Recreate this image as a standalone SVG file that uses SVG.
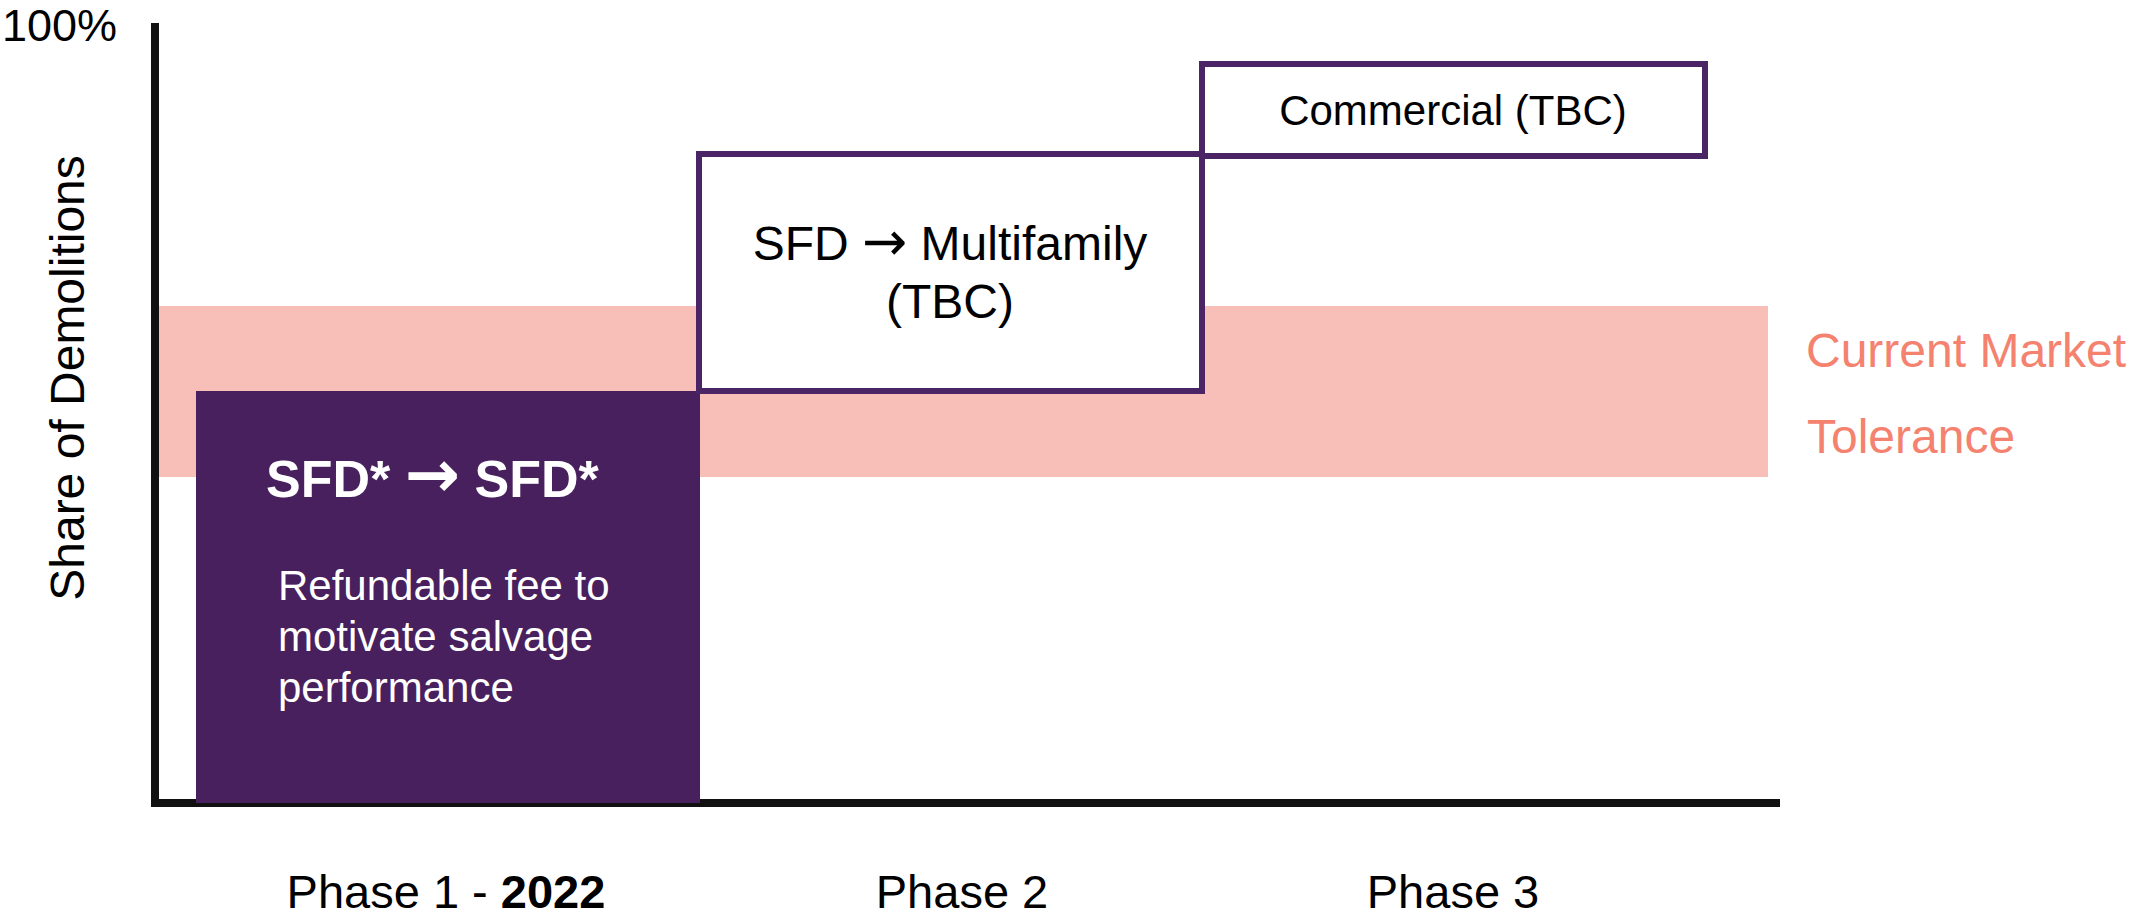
<svg xmlns="http://www.w3.org/2000/svg" width="2133" height="918" viewBox="0 0 2133 918">
<style>
text{font-family:"Liberation Sans",Arial,sans-serif;}
.blk{fill:#000;}
.box{fill:#fff;stroke:#4A2465;stroke-width:6;}
.tol{fill:#F4826F;font-size:48px;}
.ph{font-size:47px;fill:#000;}
.wt{fill:#fff;}
.arr{font-family:"DejaVu Sans",sans-serif;}
</style>
<rect width="2133" height="918" fill="#fff"/>
<g id="tolerance-band">
<rect x="158" y="306" width="1610" height="171" fill="#F8BFB9"/>
<text class="tol" x="1806" y="367">Current Market</text>
<text class="tol" x="1807" y="453">Tolerance</text>
</g>
<g id="axes">
<rect x="151" y="23" width="8" height="784" fill="#111"/>
<rect x="151" y="799" width="1629" height="8" fill="#111"/>
<text x="2" y="41" font-size="45" class="blk">100%</text>
<text transform="translate(84,378) rotate(-90)" text-anchor="middle" font-size="48" class="blk">Share of Demolitions</text>
</g>
<g id="phase1">
<rect x="196" y="391" width="504" height="412" fill="#48205E"/>
<text class="wt" x="266" y="497" font-size="52" font-weight="bold">SFD* <tspan class="arr" font-size="66">→</tspan> SFD*</text>
<text class="wt" x="278" y="600" font-size="42">Refundable fee to</text>
<text class="wt" x="278" y="651" font-size="42">motivate salvage</text>
<text class="wt" x="278" y="702" font-size="42">performance</text>
</g>
<g id="phase2">
<rect class="box" x="699" y="154" width="503" height="237"/>
<text x="950" y="260" font-size="48" text-anchor="middle" class="blk">SFD <tspan class="arr" font-size="54">→</tspan> Multifamily</text>
<text x="950" y="318" font-size="48" text-anchor="middle" class="blk">(TBC)</text>
</g>
<g id="phase3">
<rect class="box" x="1202" y="64" width="503" height="92"/>
<text x="1453" y="125" font-size="42" text-anchor="middle" class="blk">Commercial (TBC)</text>
</g>
<g id="phase-labels">
<text class="ph" x="446" y="908" text-anchor="middle">Phase 1 - <tspan font-weight="bold">2022</tspan></text>
<text class="ph" x="962" y="908" text-anchor="middle">Phase 2</text>
<text class="ph" x="1453" y="908" text-anchor="middle">Phase 3</text>
</g>
<g id="connectors"></g>
</svg>
